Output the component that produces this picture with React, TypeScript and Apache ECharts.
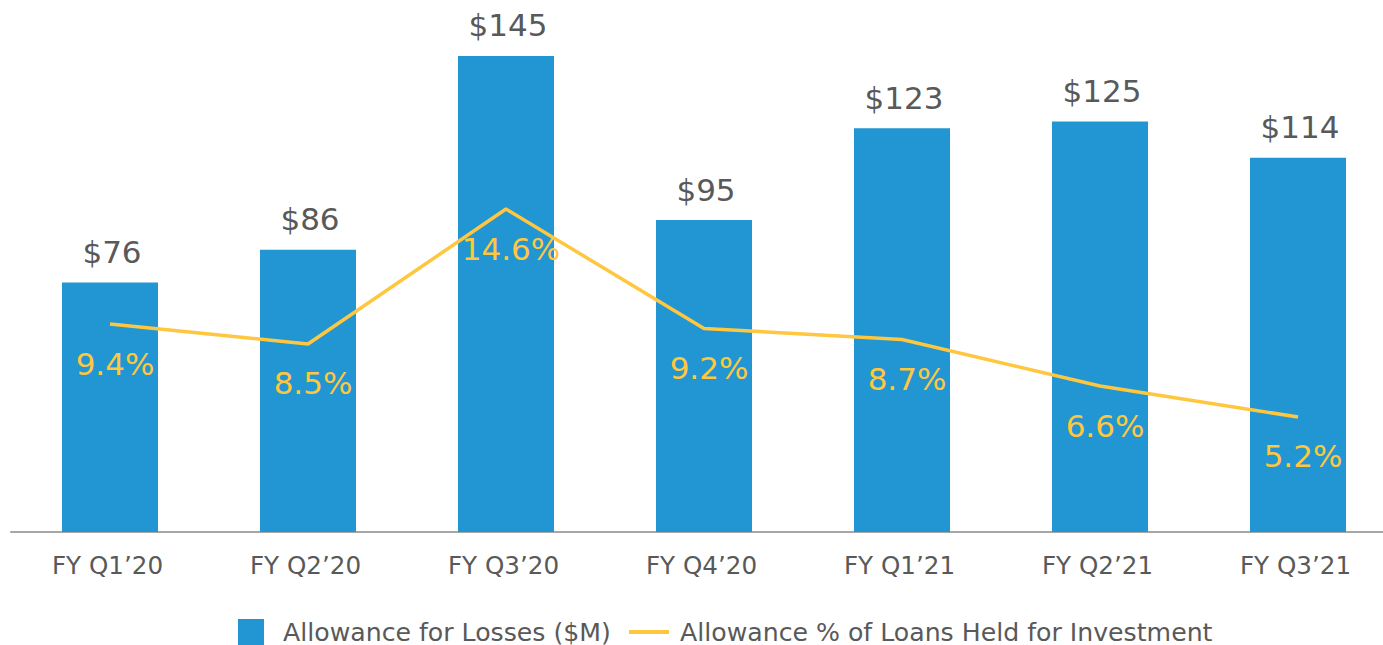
import React, { useEffect, useRef } from "react";
import * as echarts from "echarts";

const categories = ["FY Q1’20", "FY Q2’20", "FY Q3’20", "FY Q4’20", "FY Q1’21", "FY Q2’21", "FY Q3’21"];
const allowanceM = [76, 86, 145, 95, 123, 125, 114];
const allowancePct = [9.4, 8.5, 14.6, 9.2, 8.7, 6.6, 5.2];
const barName = "Allowance for Losses ($M)";
const lineName = "Allowance % of Loans Held for Investment";

const FONT = "DejaVu Sans";
const TEXT = "#595959";
const BLUE = "#2196D3";
const GOLD = "#FFC63F";

export default function App() {
  const ref = useRef<HTMLDivElement>(null);
  useEffect(() => {
    if (!ref.current) return;
    const chart = echarts.init(ref.current, undefined, { renderer: "svg" });
    chart.setOption({
      animation: false,
      backgroundColor: "#ffffff",
      textStyle: { fontFamily: FONT },
      grid: { left: 11, top: 10, width: 1386, height: 522, containLabel: false, outerBoundsMode: "none" },
      legend: [
        {
          data: [{ name: barName, icon: "rect" }],
          left: 238,
          top: 619,
          padding: 0,
          itemWidth: 26,
          itemHeight: 26,
          textStyle: { fontFamily: FONT, fontSize: 25.2, color: TEXT, padding: [0, 0, 0, 14], lineHeight: 26 },
        },
        {
          data: [{ name: lineName, icon: "rect" }],
          left: 629,
          top: 619,
          padding: 0,
          itemWidth: 40,
          itemHeight: 4,
          textStyle: { fontFamily: FONT, fontSize: 25.2, color: TEXT, padding: [0, 0, 0, 6], lineHeight: 26 },
        },
      ],
      xAxis: {
        type: "category",
        data: categories,
        axisLine: { show: true, lineStyle: { color: "#A6A6A6", width: 2 } },
        axisTick: { show: false },
        axisLabel: { fontFamily: FONT, fontSize: 24.6, color: TEXT, margin: 21, interval: 0, padding: [0, 5, 0, 0] },
      },
      yAxis: [
        { type: "value", min: 0, max: 159, show: false, splitLine: { show: false } },
        { type: "value", min: 0, max: 23.6, show: false, splitLine: { show: false } },
      ],
      series: [
        {
          name: barName,
          type: "bar",
          data: allowanceM,
          barWidth: 96,
          itemStyle: { color: BLUE },
          label: {
            show: true,
            position: "top",
            distance: 15,
            offset: [2, 0],
            formatter: (p: any) => "$" + p.value,
            fontFamily: FONT,
            fontSize: 31,
            color: TEXT,
          },
        },
        {
          name: lineName,
          type: "line",
          yAxisIndex: 1,
          data: allowancePct,
          symbol: "circle",
          symbolSize: 0,
          showSymbol: true,
          lineStyle: { color: GOLD, width: 3.5 },
          itemStyle: { color: GOLD },
          label: {
            show: true,
            position: "bottom",
            distance: 24,
            formatter: (p: any) => p.value.toFixed(1) + "%",
            fontFamily: FONT,
            fontSize: 31,
            color: GOLD,
          },
          labelLayout: { hideOverlap: false, dx: 5 },
        },
      ],
    });
    return () => chart.dispose();
  }, []);
  return (
    <div style={{ position: "absolute", left: 0, top: 0, width: 1383, height: 645, overflow: "hidden" }}>
      <div ref={ref} style={{ width: 1400, height: 645 }} />
    </div>
  );
}
